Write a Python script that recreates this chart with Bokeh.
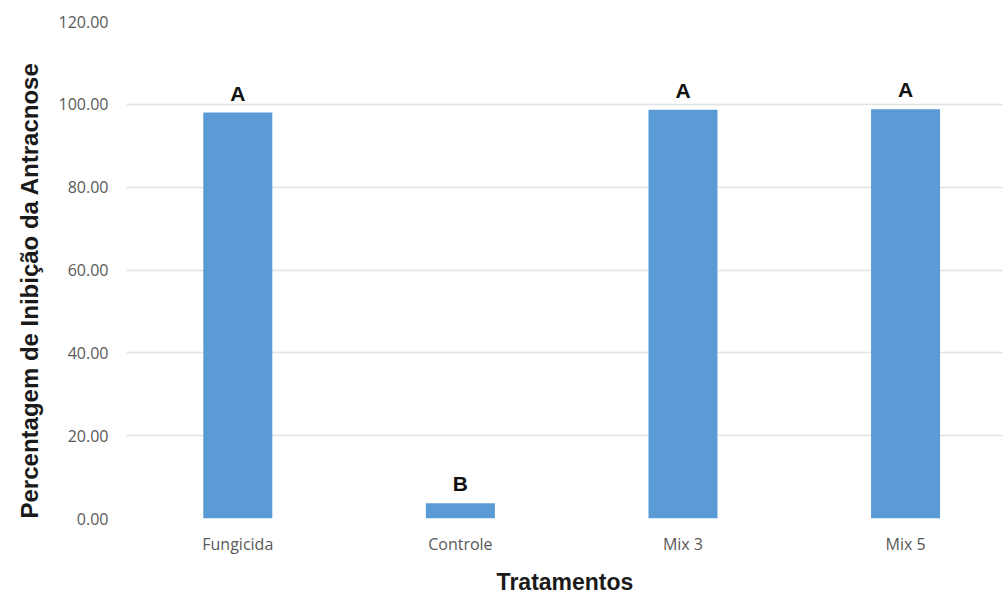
import numpy as np
from bokeh.plotting import figure
from bokeh.models import ColumnDataSource, Range1d, FixedTicker, NumeralTickFormatter, Title
from bokeh.core.properties import value
from bokeh.embed import file_html
from bokeh.resources import INLINE

categories = ["Fungicida", "Controle", "Mix 3", "Mix 5"]
inhibition = [98.0, 3.7, 98.7, 98.8]
letters = ["A", "B", "A", "A"]
y_ticks = [0, 20, 40, 60, 80, 100, 120]
x_title = "Tratamentos"
y_title = "Percentagem de Inibição da Antracnose"

xs = np.arange(len(categories)) + 0.5
src = ColumnDataSource(dict(x=xs, top=inhibition, lab=letters))

p = figure(width=1003, height=597, output_backend="svg", toolbar_location=None,
           x_range=Range1d(0, 3.94), y_range=Range1d(0, 120),
           min_border_left=125, min_border_right=0, min_border_top=21, min_border_bottom=79)
p.outline_line_color = None
p.background_fill_color = "white"
p.border_fill_color = "white"

p.vbar(x="x", top="top", width=0.31, bottom=0, source=src,
       fill_color="#5b9bd5", line_color=None)
p.text(x="x", y="top", text="lab", source=src, text_align="center", text_baseline="bottom",
       y_offset=-8, text_font=value("Liberation Sans"), text_font_style="bold",
       text_font_size="21px", text_color="#111111")

p.xaxis.ticker = FixedTicker(ticks=list(xs))
p.xaxis.major_label_overrides = {float(x): c for x, c in zip(xs, categories)}
p.yaxis.ticker = FixedTicker(ticks=y_ticks)
p.yaxis.formatter = NumeralTickFormatter(format="0.00")

for ax in (p.xaxis, p.yaxis):
    ax.axis_line_color = None
    ax.major_tick_line_color = None
    ax.minor_tick_line_color = None
    ax.major_label_text_font = "Open Sans"
    ax.major_label_text_font_size = "16px"
    ax.major_label_text_color = "#595959"
    ax.axis_label_text_font = "Liberation Sans"
    ax.axis_label_text_font_style = "bold"
    ax.axis_label_text_color = "#1a1a1a"

p.xaxis.major_label_standoff = 8
p.yaxis.major_label_standoff = 12
p.xaxis.axis_label = x_title
p.xaxis.axis_label_text_font_size = "23px"
p.xaxis.axis_label_standoff = 11

ytitle = Title(text=y_title, align="left", offset=0, standoff=26,
               text_font="Liberation Sans", text_font_style="bold",
               text_font_size="24px", text_color="#1a1a1a")
p.add_layout(ytitle, "left")

p.xgrid.grid_line_color = None
p.ygrid.grid_line_color = "#e3e3e3"
p.ygrid.grid_line_width = 1.5

open("out.html", "w").write(file_html(p, INLINE))
